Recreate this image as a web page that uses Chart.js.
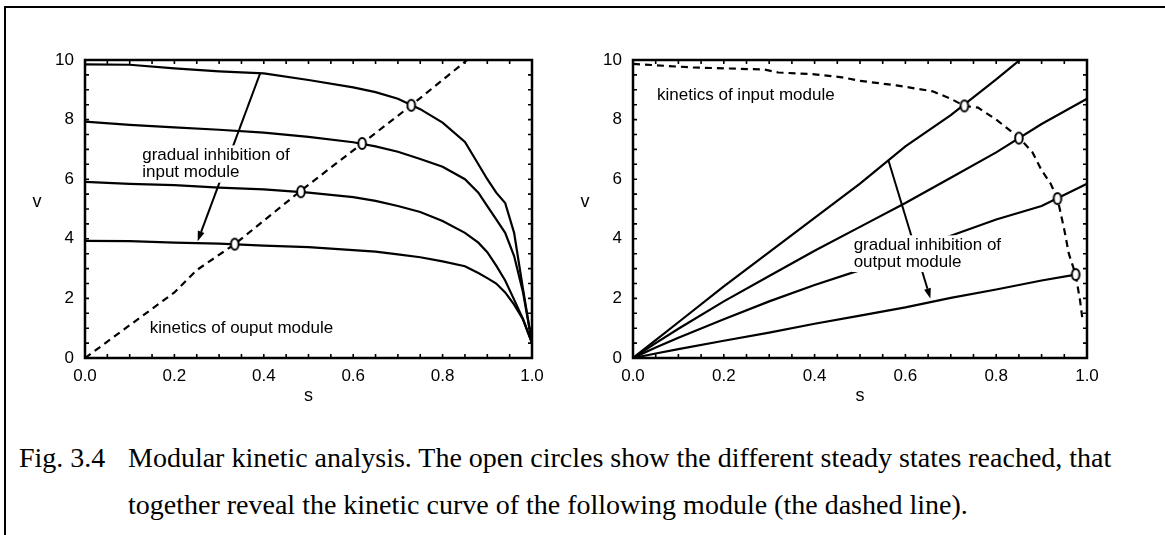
<!DOCTYPE html>
<html>
<head>
<meta charset="utf-8">
<script src="https://cdn.jsdelivr.net/npm/chart.js@4.4.0/dist/chart.umd.min.js"></script>
<style>
  body { margin: 0; width: 1165px; height: 535px; overflow: hidden; background: #fff; position: relative; }
  .frame { position: absolute; left: 4px; top: 6px; width: 1200px; height: 600px; border-top: 2px solid #000; border-left: 2px solid #000; }
  .panel { position: absolute; top: 0; }
  #caption { position: absolute; left: 19px; top: 434px; font-family: "Liberation Serif", "Times New Roman", serif; font-size: 28px; line-height: 47px; color: #000; white-space: nowrap; }
  #caption .num { display: inline-block; width: 109px; }
  #caption .cont { padding-left: 109px; }
</style>
</head>
<body>
<div class="frame"></div>
<div class="panel" style="left:0"><canvas id="leftChart" width="580" height="410"></canvas></div>
<div class="panel" style="left:548px"><canvas id="rightChart" width="580" height="410"></canvas></div>
<div id="caption">
  <div><span class="num">Fig. 3.4</span>Modular kinetic analysis. The open circles show the different steady states reached, that</div>
  <div class="cont">together reveal the kinetic curve of the following module (the dashed line).</div>
</div>

<script>
// --- 1. Axis ticks ---
const xTickValues = [0, 0.2, 0.4, 0.6, 0.8, 1.0];
const xTickLabels = ['0.0', '0.2', '0.4', '0.6', '0.8', '1.0'];
const yTickValues = [0, 2, 4, 6, 8, 10];
const yTickLabels = ['0', '2', '4', '6', '8', '10'];

// --- 2. Left panel: input module at four inhibition levels ---
const sInputGrid = [0, 0.1, 0.2, 0.3, 0.4, 0.5, 0.6, 0.65, 0.7, 0.75, 0.8, 0.85, 0.88, 0.9, 0.92, 0.94, 0.96, 0.98, 1.0];
const vInputFull = [9.85, 9.84, 9.72, 9.62, 9.55, 9.33, 9.08, 8.92, 8.7, 8.35, 7.9, 7.25, 6.5, 6.0, 5.55, 5.2, 4.2, 2.3, 0.5];
const vInput80 = [7.93, 7.82, 7.74, 7.66, 7.56, 7.42, 7.24, 7.1, 6.92, 6.68, 6.42, 6.0, 5.55, 5.1, 4.65, 4.2, 3.42, 2.2, 0.5];
const vInput60 = [5.91, 5.84, 5.8, 5.72, 5.66, 5.55, 5.4, 5.27, 5.1, 4.9, 4.6, 4.2, 3.87, 3.55, 3.1, 2.6, 1.96, 1.3, 0.5];
const vInput40 = [3.93, 3.92, 3.87, 3.84, 3.77, 3.72, 3.62, 3.57, 3.48, 3.38, 3.24, 3.08, 2.85, 2.68, 2.5, 2.2, 1.79, 1.29, 0.5];

// output module kinetics (dashed)
const sOutputLine = [0, 0.1, 0.2, 0.25, 0.335, 0.48, 0.62, 0.73, 0.855];
const vOutputLine = [0, 1.1, 2.2, 2.95, 3.82, 5.58, 7.2, 8.48, 10];

const sSteadyLeft = [0.335, 0.483, 0.62, 0.73];
const vSteadyLeft = [3.82, 5.58, 7.2, 8.48];

// --- 3. Right panel: output module at four inhibition levels ---
const sInputCurve = [0, 0.13, 0.29, 0.32, 0.4, 0.46, 0.5, 0.58, 0.62, 0.66, 0.7, 0.73, 0.76, 0.8, 0.85, 0.88, 0.9, 0.92, 0.935, 0.95, 0.96, 0.975, 0.985, 0.99];
const vInputCurve = [9.87, 9.75, 9.68, 9.58, 9.52, 9.42, 9.3, 9.15, 9.05, 8.95, 8.7, 8.46, 8.4, 8.0, 7.4, 6.9, 6.3, 5.85, 5.35, 4.3, 3.5, 2.8, 1.9, 1.3];

const sOutGrid = [0, 0.05, 0.1, 0.2, 0.3, 0.4, 0.5, 0.6, 0.7, 0.8, 0.9, 1.0];
const vOutFull = [0, 0.6, 1.2, 2.4, 3.55, 4.7, 5.85, 7.1, 8.15, 9.35, 10.6, 11.8];
const vOut80 = [0, 0.5, 0.98, 1.9, 2.75, 3.6, 4.4, 5.2, 6.05, 6.9, 7.85, 8.7];
const vOut60 = [0, 0.35, 0.68, 1.3, 1.9, 2.45, 2.95, 3.55, 4.1, 4.65, 5.1, 5.85];
const sOutLow = [0, 0.05, 0.1, 0.2, 0.3, 0.4, 0.5, 0.6, 0.7, 0.8, 0.9, 0.975];
const vOut30 = [0, 0.15, 0.3, 0.58, 0.85, 1.15, 1.42, 1.7, 2.02, 2.3, 2.6, 2.8];

const sSteadyRight = [0.73, 0.85, 0.935, 0.975];
const vSteadyRight = [8.46, 7.38, 5.35, 2.8];

// --- 4. Helpers ---
const FONT = '"Liberation Sans", Arial, Helvetica, sans-serif';
const toPoints = (xs, ys) => xs.map((x, i) => ({ x: x, y: ys[i] }));

// open ellipse marker (taller than wide, as in the figure)
const ring = document.createElement('canvas');
ring.width = 12; ring.height = 15;
(function () {
    const c = ring.getContext('2d');
    c.beginPath();
    c.ellipse(6, 7.5, 3.8, 5.5, 0, 0, Math.PI * 2);
    c.fillStyle = '#fff'; c.fill();
    c.lineWidth = 2; c.strokeStyle = '#000'; c.stroke();
})();

function solid(xs, ys) {
    return { data: toPoints(xs, ys), showLine: true, borderColor: '#000', borderWidth: 2.2, pointRadius: 0, order: 2 };
}
function dashed(xs, ys) {
    return { data: toPoints(xs, ys), showLine: true, borderColor: '#000', borderWidth: 2.2, borderDash: [7, 5], pointRadius: 0, order: 2 };
}
function rings(xs, ys) {
    return { data: toPoints(xs, ys), showLine: false, pointStyle: ring, pointRadius: 6, order: 0 };
}

// frame, inward ticks, axis titles, arrows and notes
const decorPlugin = {
    id: 'decor',
    afterDatasetsDraw(chart, args, opts) {
        const ctx = chart.ctx;
        const xs = chart.scales.x, ys = chart.scales.y;
        const area = chart.chartArea;
        ctx.save();
        ctx.strokeStyle = '#000';
        ctx.fillStyle = '#000';

        // arrows
        ctx.lineWidth = 2;
        (opts.arrows || []).forEach(a => {
            const x1 = xs.getPixelForValue(a.from[0]), y1 = ys.getPixelForValue(a.from[1]);
            const x2 = xs.getPixelForValue(a.to[0]), y2 = ys.getPixelForValue(a.to[1]);
            const ang = Math.atan2(y2 - y1, x2 - x1);
            const hl = 10, hw = 3.5;
            const bx = x2 - hl * Math.cos(ang), by = y2 - hl * Math.sin(ang);
            ctx.beginPath(); ctx.moveTo(x1, y1); ctx.lineTo(bx, by); ctx.stroke();
            ctx.beginPath();
            ctx.moveTo(x2, y2);
            ctx.lineTo(bx + hw * Math.sin(ang), by - hw * Math.cos(ang));
            ctx.lineTo(bx - hw * Math.sin(ang), by + hw * Math.cos(ang));
            ctx.closePath(); ctx.fill();
        });

        // notes on white backing
        ctx.font = '17px ' + FONT;
        ctx.textBaseline = 'middle';
        ctx.textAlign = 'left';
        (opts.notes || []).forEach(n => {
            const x = xs.getPixelForValue(n.s);
            ctx.fillStyle = '#fff';
            n.lines.forEach((t, i) => {
                const y = ys.getPixelForValue(n.v[i]);
                ctx.fillRect(x - 2, y - 10, ctx.measureText(t).width + 4, 20);
            });
            ctx.fillStyle = '#000';
            n.lines.forEach((t, i) => ctx.fillText(t, x, ys.getPixelForValue(n.v[i])));
        });

        // plot frame
        ctx.lineWidth = 2.5;
        ctx.strokeRect(area.left, area.top, area.right - area.left, area.bottom - area.top);

        // inward ticks on all four sides
        const tk = 4;
        ctx.lineWidth = 1.6;
        ctx.beginPath();
        for (let i = 0; i <= 20; i++) {
            const px = xs.getPixelForValue(i * 0.05);
            ctx.moveTo(px, area.bottom); ctx.lineTo(px, area.bottom - tk);
            ctx.moveTo(px, area.top); ctx.lineTo(px, area.top + tk);
            const py = ys.getPixelForValue(i * 0.5);
            ctx.moveTo(area.left, py); ctx.lineTo(area.left + tk, py);
            ctx.moveTo(area.right, py); ctx.lineTo(area.right - tk, py);
        }
        ctx.stroke();

        // axis titles
        ctx.font = '18px ' + FONT;
        ctx.textAlign = 'center';
        ctx.fillText('s', (area.left + area.right) / 2, area.bottom + 38);
        ctx.fillText('v', area.left - 48, area.top + 142);
        ctx.restore();
    }
};

function makeOptions(rightPad, decor) {
    return {
        responsive: false,
        animation: false,
        devicePixelRatio: 1,
        events: [],
        layout: { padding: { top: 60, right: rightPad, left: 0, bottom: 22 } },
        plugins: { legend: { display: false }, tooltip: { enabled: false }, decor: decor },
        scales: {
            x: {
                type: 'linear', min: 0, max: 1,
                afterFit: (scale) => { scale.height = 30; },
                afterBuildTicks: (scale) => { scale.ticks = xTickValues.map(v => ({ value: v })); },
                grid: { display: false, drawTicks: false },
                border: { display: false },
                ticks: {
                    color: '#000', padding: 8, maxRotation: 0, autoSkip: false,
                    font: { family: FONT, size: 17 },
                    callback: (value, index) => xTickLabels[index]
                }
            },
            y: {
                type: 'linear', min: 0, max: 10,
                afterFit: (scale) => { scale.width = 85; },
                afterBuildTicks: (scale) => { scale.ticks = yTickValues.map(v => ({ value: v })); },
                grid: { display: false, drawTicks: false },
                border: { display: false },
                ticks: {
                    color: '#000', padding: 11, autoSkip: false,
                    font: { family: FONT, size: 17 },
                    callback: (value, index) => yTickLabels[index]
                }
            }
        }
    };
}

// --- 5. Charts ---
new Chart(document.getElementById('leftChart').getContext('2d'), {
    type: 'scatter',
    data: {
        datasets: [
            rings(sSteadyLeft, vSteadyLeft),
            solid(sInputGrid, vInputFull),
            solid(sInputGrid, vInput80),
            solid(sInputGrid, vInput60),
            solid(sInputGrid, vInput40),
            dashed(sOutputLine, vOutputLine)
        ]
    },
    options: makeOptions(48, {
        arrows: [{ from: [0.392, 9.56], to: [0.252, 3.92] }],
        notes: [
            { s: 0.128, v: [6.8, 6.22], lines: ['gradual inhibition of', 'input module'] },
            { s: 0.145, v: [1.0], lines: ['kinetics of ouput module'] }
        ]
    }),
    plugins: [decorPlugin]
});

new Chart(document.getElementById('rightChart').getContext('2d'), {
    type: 'scatter',
    data: {
        datasets: [
            rings(sSteadyRight, vSteadyRight),
            solid(sOutGrid, vOutFull),
            solid(sOutGrid, vOut80),
            solid(sOutGrid, vOut60),
            solid(sOutLow, vOut30),
            dashed(sInputCurve, vInputCurve)
        ]
    },
    options: makeOptions(41, {
        arrows: [{ from: [0.563, 6.61], to: [0.655, 2.0] }],
        notes: [
            { s: 0.053, v: [8.83], lines: ['kinetics of input module'] },
            { s: 0.486, v: [3.78, 3.22], lines: ['gradual inhibition of', 'output module'] }
        ]
    }),
    plugins: [decorPlugin]
});
</script>
</body>
</html>
